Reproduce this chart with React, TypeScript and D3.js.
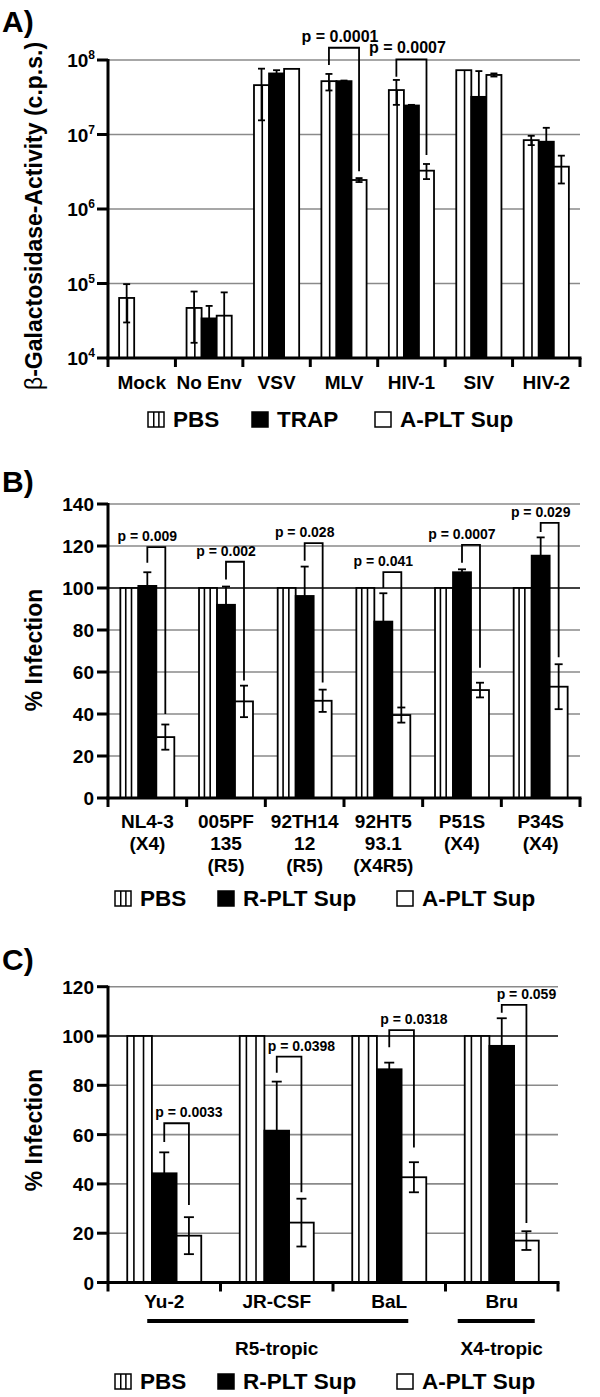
import React from "react";
import * as d3 from "d3";

// ---------- DATA ----------
// Panel A
const catsA = ["Mock", "No Env", "VSV", "MLV", "HIV-1", "SIV", "HIV-2"];
const seriesA = ["PBS", "TRAP", "A-PLT Sup"];
const pbsA = [6.4e4, 4.7e4, 4.6e7, 5.2e7, 3.95e7, 7.3e7, 8.4e6];
const pbsErrA = [3.4e4, 3.1e4, 3.05e7, 1.3e7, 1.45e7, 0, 1.2e6];
const trapA = [null, 3.4e4, 6.6e7, 5.2e7, 2.45e7, 3.2e7, 8.0e6];
const trapErrA = [null, 1.6e4, 0.7e7, 0.1e7, 0.05e7, 3.9e7, 4.3e6];
const apltA = [null, 3.7e4, 7.6e7, 2.45e6, 3.27e6, 6.3e7, 3.7e6];
const apltErrA = [null, 3.9e4, 0, 1.5e5, 7.5e5, 3e6, 1.5e6];
const yTicksA = [1e4, 1e5, 1e6, 1e7, 1e8];
const pCatA = [3, 4];
const pLabelsA = ["p = 0.0001", "p = 0.0007"];
const pTopA = [1.46e8, 1.02e8];
const pLeftEndA = [8.6e7, 5.97e7];
const pRightEndA = [3.2e6, 5.3e6];

// Panel B
const catsB = [["NL4-3", "(X4)"], ["005PF", "135", "(R5)"], ["92TH14", "12", "(R5)"], ["92HT5", "93.1", "(X4R5)"], ["P51S", "(X4)"], ["P34S", "(X4)"]];
const seriesB = ["PBS", "R-PLT Sup", "A-PLT Sup"];
const pbsB = [100, 100, 100, 100, 100, 100];
const pbsErrB = [0, 0, 0, 0, 0, 0];
const rpltB = [101, 92, 96.2, 84, 107.5, 115.4];
const rpltErrB = [6.5, 8.7, 14, 13.5, 1.4, 8.7];
const apltB = [29, 46, 46.3, 39.5, 51.4, 53];
const apltErrB = [6, 7.5, 5.3, 3.6, 3.5, 10.7];
const yTicksB = [0, 20, 40, 60, 80, 100, 120, 140];
const pLabelsB = ["p = 0.009", "p = 0.002", "p = 0.028", "p = 0.041", "p = 0.0007", "p = 0.029"];
const pTopB = [119.5, 112.5, 121.4, 107.6, 120.5, 131];
const pLeftEndB = [112, 104, 113, 100, 112, 126.7];
const pRightEndB = [40, 56, 55, 43, 62, 67];

// Panel C
const catsC = ["Yu-2", "JR-CSF", "BaL", "Bru"];
const seriesC = ["PBS", "R-PLT Sup", "A-PLT Sup"];
const pbsC = [100, 100, 100, 100];
const pbsErrC = [0, 0, 0, 0];
const rpltC = [44.3, 61.6, 86.5, 96];
const rpltErrC = [8.5, 19.9, 2.7, 11.2];
const apltC = [19, 24.3, 42.7, 17];
const apltErrC = [7.5, 9.7, 6.1, 3.8];
const yTicksC = [0, 20, 40, 60, 80, 100, 120];
const pLabelsC = ["p = 0.0033", "p = 0.0398", "p = 0.0318", "p = 0.059"];
const pTopC = [64.6, 91.6, 102.4, 112.6];
const pLeftEndC = [57, 85.1, 95.4, 109.4];
const pRightEndC = [31.4, 36.6, 54.8, 24.1];
const tropicLabelsC = ["R5-tropic", "X4-tropic"];
const tropicFromC = [0, 3];
const tropicToC = [2, 3];

// ---------- DRAWING ----------
const FONT = "'Liberation Sans', Arial, Helvetica, sans-serif";
const GRID = "#8a8a8a";

type PanelCfg = {
  title: string;
  titleY: number;
  cats: string[][];
  series: string[];
  values: (number | null)[][];
  errs: (number | null)[][];
  log: boolean;
  domain: [number, number];
  yRange: [number, number];
  xRange: [number, number];
  gridRight: number;
  yTicks: number[];
  blackLine100: boolean;
  groupFrac: number;
  stripes: number[];
  capW: number;
  pCats: number[];
  pLabels: string[];
  pTop: number[];
  pLeftEnd: number[];
  pRightEnd: number[];
  pLeftSeries: number;
  pFont: number;
  pAnchor: "mid" | "left" | "right";
  labelY: number;
  labelDy: number;
  yLabel: React.ReactNode;
  yLabelX: number;
  yLabelY: number;
  legendY: number;
  legendX: number[];
  extra?: (x: d3.ScaleBand<string>) => React.ReactNode;
};

function Panel({ c }: { c: PanelCfg }) {
  const keys = c.cats.map((_, i) => String(i));
  const pad = 1 - c.groupFrac;
  const x = d3.scaleBand<string>().domain(keys).range(c.xRange).paddingInner(pad).paddingOuter(pad / 2);
  const xi = d3.scaleBand<string>().domain(c.series).range([0, x.bandwidth()]);
  const y: any = c.log
    ? d3.scaleLog().domain(c.domain).range(c.yRange)
    : d3.scaleLinear().domain(c.domain).range(c.yRange);
  const y0 = c.yRange[0];
  const step = x.step();
  const bw = xi.bandwidth();
  const yy = (v: number) => (c.log && v <= c.domain[0] ? y0 : y(v));

  const bars: React.ReactNode[] = [];
  const errs: React.ReactNode[] = [];
  c.cats.forEach((_, i) => {
    c.series.forEach((s, si) => {
      const v = c.values[si][i];
      if (v == null) return;
      const bx = (x(String(i)) as number) + (xi(s) as number);
      const by = y(v);
      bars.push(
        <rect key={`b${i}-${si}`} x={bx} y={by} width={bw} height={y0 - by}
          fill={si === 1 ? "#000" : "#fff"} stroke="#000" strokeWidth={1.8} />
      );
      if (si === 0) {
        c.stripes.forEach((f, k) => {
          bars.push(<line key={`s${i}-${k}`} x1={bx + bw * f} x2={bx + bw * f} y1={by} y2={y0} stroke="#000" strokeWidth={1.6} />);
        });
      }
      const e = c.errs[si][i];
      if (e && e > 0) {
        const cx = bx + bw / 2;
        const hi = y(v + e);
        const lo = yy(v - e);
        errs.push(
          <g key={`e${i}-${si}`} stroke="#000" strokeWidth={1.8}>
            <line x1={cx} x2={cx} y1={hi} y2={lo} stroke={si === 1 ? "#000" : "#000"} />
            <line x1={cx - c.capW / 2} x2={cx + c.capW / 2} y1={hi} y2={hi} />
            {lo < y0 - 1 && <line x1={cx - c.capW / 2} x2={cx + c.capW / 2} y1={lo} y2={lo} />}
          </g>
        );
      }
    });
  });

  const brackets = c.pCats.map((ci, k) => {
    const base = x(String(ci)) as number;
    const xl = base + (xi(c.series[c.pLeftSeries]) as number) + bw / 2;
    const xr = base + (xi(c.series[2]) as number) + bw / 2;
    const top = y(c.pTop[k]);
    const tx = c.pAnchor === "mid" ? (xl + xr) / 2 - 4 : c.pAnchor === "left" ? xl : xr;
    return (
      <g key={`p${k}`}>
        <path d={`M${xl},${y(c.pLeftEnd[k])}V${top}H${xr}V${y(c.pRightEnd[k])}`} fill="none" stroke="#000" strokeWidth={1.8} />
        <text x={tx} y={top - 6} textAnchor="middle" fontSize={c.pFont} fontWeight="bold">{c.pLabels[k]}</text>
      </g>
    );
  });

  const legend = c.series.map((s, si) => {
    const lx = c.legendX[si];
    const ly = c.legendY;
    const sz = 15;
    return (
      <g key={`l${si}`}>
        <rect x={lx} y={ly - sz} width={sz + 1} height={sz} fill={si === 1 ? "#000" : "#fff"} stroke="#000" strokeWidth={1.5} />
        {si === 0 && [0.36, 0.68].map((f, k) => (
          <line key={k} x1={lx + (sz + 1) * f} x2={lx + (sz + 1) * f} y1={ly - sz} y2={ly} stroke="#000" strokeWidth={1.5} />
        ))}
        <text x={lx + 25} y={ly} fontSize={22.5} fontWeight="bold">{s}</text>
      </g>
    );
  });

  const xEnd = c.xRange[1];
  return (
    <g>
      <text x={2} y={c.titleY} fontSize={30} fontWeight="bold">{c.title}</text>
      {c.yTicks.slice(1).map((t) => (
        <line key={`g${t}`} x1={c.xRange[0]} x2={c.gridRight} y1={y(t)} y2={y(t)}
          stroke={c.blackLine100 && t === 100 ? "#000" : GRID} strokeWidth={1.6} />
      ))}
      {bars}
      {errs}
      {brackets}
      {/* y axis */}
      <line x1={c.xRange[0]} x2={c.xRange[0]} y1={y(c.yTicks[c.yTicks.length - 1]) - 1} y2={y0 + 1.5} stroke="#000" strokeWidth={3} />
      {c.yTicks.map((t) => (
        <g key={`t${t}`}>
          <line x1={c.xRange[0] - 11} x2={c.xRange[0]} y1={y(t)} y2={y(t)} stroke="#000" strokeWidth={3} />
          {c.log ? (
            <text x={95} y={y(t) + 7} textAnchor="end" fontSize={19} fontWeight="bold">
              10<tspan fontSize={12} dy={-8}>{Math.round(Math.log10(t))}</tspan>
            </text>
          ) : (
            <text x={94} y={y(t) + 7} textAnchor="end" fontSize={19} fontWeight="bold">{t}</text>
          )}
        </g>
      ))}
      {/* x axis */}
      <line x1={c.xRange[0] - 1.5} x2={xEnd + 1.5} y1={y0} y2={y0} stroke="#000" strokeWidth={3} />
      {d3.range(c.cats.length + 1).map((i) => (
        <line key={`xt${i}`} x1={c.xRange[0] + i * step} x2={c.xRange[0] + i * step} y1={y0} y2={y0 + 9} stroke="#000" strokeWidth={3} />
      ))}
      {c.cats.map((lines, i) => (
        <text key={`cl${i}`} x={(x(String(i)) as number) + x.bandwidth() / 2} y={c.labelY} textAnchor="middle" fontSize={19} fontWeight="bold">
          {lines.map((ln, k) => (
            <tspan key={k} x={(x(String(i)) as number) + x.bandwidth() / 2} dy={k === 0 ? 0 : c.labelDy}>{ln}</tspan>
          ))}
        </text>
      ))}
      {c.extra && c.extra(x)}
      <text transform={`translate(${c.yLabelX},${c.yLabelY}) rotate(-90)`} textAnchor="middle" fontSize={23} fontWeight="bold">{c.yLabel}</text>
      {legend}
    </g>
  );
}

export default function App() {
  const A: PanelCfg = {
    title: "A)", titleY: 32,
    cats: catsA.map((d) => [d]), series: seriesA,
    values: [pbsA, trapA, apltA], errs: [pbsErrA, trapErrA, apltErrA],
    log: true, domain: [1e4, 1e8], yRange: [358, 60], xRange: [108, 580], gridRight: 580,
    yTicks: yTicksA, blackLine100: false, groupFrac: 0.67, stripes: [0.55], capW: 7,
    pCats: pCatA, pLabels: pLabelsA, pTop: pTopA, pLeftEnd: pLeftEndA, pRightEnd: pRightEndA,
    pLeftSeries: 0, pFont: 16, pAnchor: "mid",
    labelY: 389, labelDy: 22,
    yLabel: (<><tspan fontWeight="normal">β</tspan>-Galactosidase-Activity (c.p.s.)</>),
    yLabelX: 42, yLabelY: 216,
    legendY: 427, legendX: [148, 252, 375],
  };
  const B: PanelCfg = {
    title: "B)", titleY: 492,
    cats: catsB, series: seriesB,
    values: [pbsB, rpltB, apltB], errs: [pbsErrB, rpltErrB, apltErrB],
    log: false, domain: [0, 140], yRange: [798, 504], xRange: [108, 580], gridRight: 580,
    yTicks: yTicksB, blackLine100: true, groupFrac: 0.686, stripes: [0.3, 0.62], capW: 8,
    pCats: d3.range(catsB.length), pLabels: pLabelsB, pTop: pTopB, pLeftEnd: pLeftEndB, pRightEnd: pRightEndB,
    pLeftSeries: 1, pFont: 14, pAnchor: "left",
    labelY: 828, labelDy: 22,
    yLabel: "% Infection", yLabelX: 42, yLabelY: 650,
    legendY: 906, legendX: [115, 218, 397],
  };
  const C: PanelCfg = {
    title: "C)", titleY: 970,
    cats: catsC.map((d) => [d]), series: seriesC,
    values: [pbsC, rpltC, apltC], errs: [pbsErrC, rpltErrC, apltErrC],
    log: false, domain: [0, 120], yRange: [1282.5, 986.7], xRange: [108, 558], gridRight: 558,
    yTicks: yTicksC, blackLine100: true, groupFrac: 0.658, stripes: [0.27, 0.66], capW: 10,
    pCats: d3.range(catsC.length), pLabels: pLabelsC, pTop: pTopC, pLeftEnd: pLeftEndC, pRightEnd: pRightEndC,
    pLeftSeries: 1, pFont: 14, pAnchor: "right",
    labelY: 1308, labelDy: 22,
    yLabel: "% Infection", yLabelX: 42, yLabelY: 1130,
    legendY: 1389, legendX: [115, 218, 397],
    extra: (x) => (
      <g>
        {tropicLabelsC.map((lab, k) => {
          const bw = x.bandwidth();
          const a = (x(String(tropicFromC[k])) as number);
          const b = (x(String(tropicToC[k])) as number) + bw;
          const x1 = k === 0 ? a + 20 : a - 7;
          const x2 = k === 0 ? b - 18 : b - 4;
          const xm = ((x(String(tropicFromC[k])) as number) + (x(String(tropicToC[k])) as number)) / 2 + bw / 2;
          return (
            <g key={lab}>
              <line x1={x1} x2={x2} y1={1321} y2={1321} stroke="#000" strokeWidth={4} />
              <text x={xm} y={1355} textAnchor="middle" fontSize={19} fontWeight="bold">{lab}</text>
            </g>
          );
        })}
      </g>
    ),
  };
  return (
    <svg width={600} height={1397} style={{ position: "absolute", left: 0, top: 0, background: "#fff" }} fontFamily={FONT}>
      <rect x={0} y={0} width={600} height={1397} fill="#fff" />
      <Panel c={A} />
      <Panel c={B} />
      <Panel c={C} />
    </svg>
  );
}
